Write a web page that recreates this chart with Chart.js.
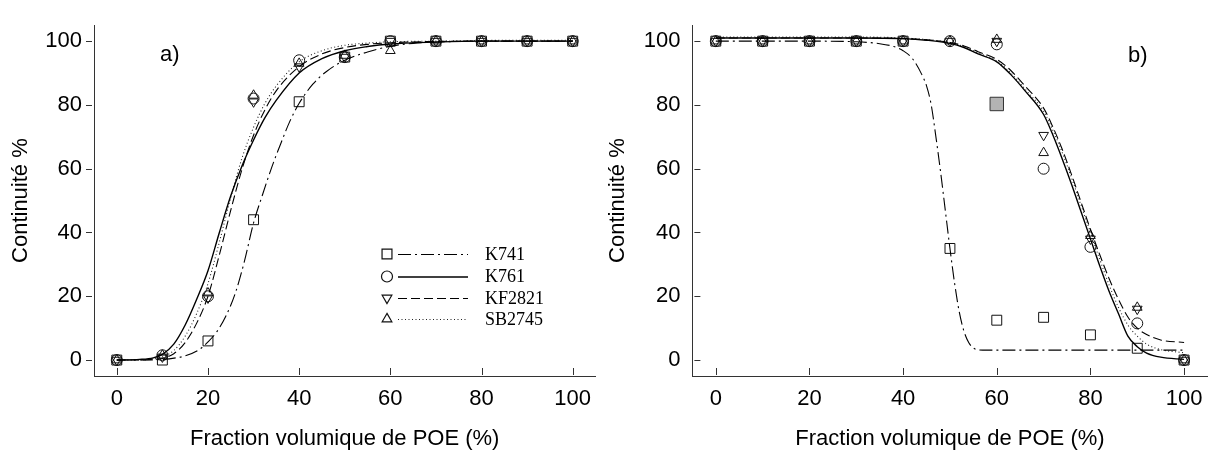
<!DOCTYPE html>
<html><head><meta charset="utf-8">
<script src="https://cdn.jsdelivr.net/npm/chart.js@4.4.1/dist/chart.umd.min.js"></script>
<style>
html,body{margin:0;padding:0;background:#fff;width:1218px;height:452px;overflow:hidden;}
#c1{position:absolute;left:0;top:0;}
#c2{position:absolute;left:600px;top:0;}
</style></head><body>
<canvas id="c1" width="609" height="452"></canvas>
<canvas id="c2" width="618" height="452"></canvas>
<script>
// ---------- data ----------
const xTickValues = [0, 20, 40, 60, 80, 100];
const yTickValues = [0, 20, 40, 60, 80, 100];
const seriesNames = ['K741', 'K761', 'KF2821', 'SB2745'];
const fractions = [0, 10, 20, 30, 40, 50, 60, 70, 80, 90, 100];

// panel a) measured points
const a_K741   = [0, 0,   6,   44, 81, 95,   100, 100, 100, 100, 100];
const a_K761   = [0, 1.5, 20,  82, 94, 95,   100, 100, 100, 100, 100];
const a_KF2821 = [0, 1,   19.5,81, 92, 95,   100, 100, 100, 100, 100];
const a_SB2745 = [0, 1.5, 21,  83, 93, 95.5, 97,  100, 100, 100, 100];

// panel a) fitted curves (read off the picture)
const fitA_x_K741 = [0,5,10,13,15,18,20,22,24,26,28,30,32,34,36,38,40,43,46,50,55,60,65,70,80,90,100];
const fitA_K741   = [0,0,0.2,0.7,1.3,3.2,5.7,9,14,21,31,43,52,60.5,68,75,80.5,86.5,90.5,94,96.6,98.4,99.3,99.7,100,100,100];
const fitA_x      = [0,5,8,10,12.5,15,17.5,20,22.5,25,27.5,30,32.5,35,40,45,50,55,60,70,80,90,100];
const fitA_K761   = [0,0.2,0.7,1.8,5,11,19,28,40,51.5,61,69,76,81.5,90,94.5,97,98.3,99.1,99.7,100,100,100];
const fitA_KF2821 = [0,0,0.2,0.5,2,5.5,11.5,20,33,47,60,70.5,78.5,84.5,92,96,98,99,99.5,99.9,100,100,100];
const fitA_SB2745 = [0,0,0.4,1,3,7.5,14.5,24,37,51,63.5,73,80.5,86,93.5,97,98.7,99.4,99.8,100,100.2,100.3,100.3];

// panel b) measured points
const b_K741   = [100, 100, 100, 100, 100, 35,  12.5, 13.4, 7.9,  3.7,  0];
const b_K761   = [100, 100, 100, 100, 100, 100, 99,   60,   35.5, 11.5, 0];
const b_KF2821 = [100, 100, 100, 100, 100, 100, 100,  70.5, 38,   16,   0];
const b_SB2745 = [100, 100, 100, 100, 100, 100, 100.5,65,   39,   16.5, 0];
const b_extra_x = [60];
const b_extra_y = [80.3];

// panel b) fitted curves
const fitB_x_K741 = [0,10,20,30,35,38,40,42,44,45,46,47,48,49,50,51,52,53,54,55,56,58,60,70,80,90,100];
const fitB_K741   = [100,100,100,99.8,99.2,98.3,97,94.5,89.5,86,80,70,59,47,35,24,15,9,5.5,3.8,3.2,3.1,3.1,3.1,3.1,3.1,3.1];
const fitB_x      = [0,20,30,40,45,50,53,56,60,63,66,70,72,74,76,78,80,82,84,86,88,90,92,95,100];
const fitB_K761   = [101,101,101,100.8,100.3,99.3,98,96,93.5,89.5,84.5,77,70.5,63,55,46.5,38,29.5,21.5,14.5,7.5,4.2,2.2,0.9,0.2];
const fitB_KF2821 = [101,101,101,100.8,100.4,99.6,98.5,96.7,94.3,90.8,86,79,73,66,58,49.5,41,33,25.5,19,13.5,10,8,6.3,5.5];
const fitB_SB2745 = [101.3,101.3,101.3,101,100.5,99.6,98.3,96.3,93.8,90,85,78,72,65,57,48.5,40,31.5,23.5,16.5,11,7.5,5,3.3,2.3];

// ---------- styles ----------
const FONT = '"Liberation Sans", Arial, Helvetica, sans-serif';
const SERIF = '"Liberation Serif", "Times New Roman", serif';
const styleOf = {
  K741:   {dash: [13, 4, 2, 4], point: 'rect',     r: 7,   rot: 0,   color: '#000', lw: 1.1},
  K761:   {dash: [],            point: 'circle',   r: 5.5, rot: 0,   color: '#000', lw: 1.4},
  KF2821: {dash: [9, 4],        point: 'triangle', r: 5.6, rot: 180, color: '#000', lw: 1.1},
  SB2745: {dash: [1, 2.5],      point: 'triangle', r: 5.6, rot: 0,   color: '#222', lw: 1.1}
};

const pts = (xs, ys) => xs.map((x, i) => ({x: x, y: ys[i]}));

function curveDs(name, xs, ys) {
  const s = styleOf[name];
  return {label: name + ' fit', data: pts(xs, ys), showLine: true, borderColor: s.color,
    borderWidth: s.lw, borderDash: s.dash, pointRadius: 0, cubicInterpolationMode: 'monotone', fill: false};
}
function markerDs(name, ys) {
  const s = styleOf[name];
  return {label: name, data: pts(fractions, ys), showLine: false, pointStyle: s.point,
    pointRadius: s.r, pointRotation: s.rot, pointBorderColor: '#111', pointBackgroundColor: 'rgba(0,0,0,0)',
    pointBorderWidth: 1};
}

// ---------- plugins ----------
const tickMarks = {
  id: 'tickMarks',
  afterDraw(chart, args, opts) {
    const ctx = chart.ctx, xs = chart.scales.x, ys = chart.scales.y, ca = chart.chartArea;
    ctx.save(); ctx.strokeStyle = '#333'; ctx.lineWidth = 1; ctx.beginPath();
    xTickValues.forEach(v => { const px = Math.round(xs.getPixelForValue(v)) + 0.5;
      ctx.moveTo(px, ca.bottom - 1); ctx.lineTo(px, ca.bottom - 8); });
    yTickValues.forEach(v => { const py = Math.round(ys.getPixelForValue(v)) + 0.5;
      if (opts.yOut) { ctx.moveTo(ca.left - 8, py); ctx.lineTo(ca.left - 2, py); }
      else { ctx.moveTo(ca.left + 2, py); ctx.lineTo(ca.left + 8, py); } });
    ctx.stroke(); ctx.restore();
  }
};
const panelText = {
  id: 'panelText',
  afterDraw(chart, args, opts) {
    const ctx = chart.ctx;
    ctx.save(); ctx.fillStyle = '#000'; ctx.font = '22px ' + FONT; ctx.textBaseline = 'middle'; ctx.textAlign = 'left';
    ctx.fillText(opts.text, opts.x, opts.y);
    if (opts.legend) {
      const L = opts.legend;
      seriesNames.forEach((name, i) => {
        const s = styleOf[name]; const y = L.rows[i];
        ctx.strokeStyle = s.color; ctx.lineWidth = s.lw; ctx.setLineDash(s.dash);
        ctx.beginPath(); ctx.moveTo(L.lineX0, y + 0.5); ctx.lineTo(L.lineX1, y + 0.5); ctx.stroke();
        ctx.setLineDash([]); ctx.strokeStyle = '#111'; ctx.fillStyle = 'rgba(0,0,0,0)'; ctx.lineWidth = 1.2;
        Chart.helpers.drawPoint(ctx, {pointStyle: s.point, rotation: s.rot, radius: s.r, borderWidth: 1.2}, L.markX, y);
        ctx.fillStyle = '#000'; ctx.font = '18px ' + SERIF; ctx.textBaseline = 'middle';
        ctx.fillText(name, L.textX, y + 1);
      });
    }
    ctx.restore();
  }
};

function makeOptions(yWidth, padLeft, padRight, titlePadTop, yOut, textOpts) {
  return {
    responsive: false, animation: false, devicePixelRatio: 1,
    layout: {padding: {left: padLeft, right: padRight, top: 7, bottom: 0}},
    plugins: {legend: {display: false}, tooltip: {enabled: false}, tickMarks: {yOut: yOut}, panelText: textOpts},
    scales: {
      x: {type: 'linear', min: -5, max: 105,
        afterBuildTicks: s => { s.ticks = xTickValues.map(v => ({value: v})); },
        afterFit: s => { s.height = 76; },
        grid: {display: false, drawTicks: false},
        border: {display: true, color: '#333', width: 1},
        ticks: {padding: 10, font: {family: FONT, size: 22}, color: '#000', maxRotation: 0, autoSkip: false},
        title: {display: true, text: 'Fraction volumique de POE (%)', font: {family: FONT, size: 22}, color: '#000', padding: {top: 0, bottom: 0}}},
      y: {type: 'linear', min: -5, max: 105,
        afterBuildTicks: s => { s.ticks = yTickValues.map(v => ({value: v})); },
        afterFit: s => { s.width = yWidth; },
        grid: {display: false, drawTicks: false},
        border: {display: true, color: '#333', width: 1},
        ticks: {padding: 12, font: {family: FONT, size: 22}, color: '#000', autoSkip: false},
        title: {display: true, text: 'Continuité %', font: {family: FONT, size: 22}, color: '#000', padding: {top: titlePadTop, bottom: 0}}}
    }
  };
}

// ---------- panel a ----------
new Chart(document.getElementById('c1'), {
  type: 'line',
  data: {datasets: [
    curveDs('K741', fitA_x_K741, fitA_K741),
    curveDs('K761', fitA_x, fitA_K761),
    curveDs('KF2821', fitA_x, fitA_KF2821),
    curveDs('SB2745', fitA_x, fitA_SB2745),
    markerDs('K741', a_K741), markerDs('K761', a_K761), markerDs('KF2821', a_KF2821), markerDs('SB2745', a_SB2745)
  ]},
  options: makeOptions(94, 0, 13.5, 8, true,
    {text: 'a)', x: 160, y: 55, legend: {rows: [254, 276.5, 298, 319], markX: 387, lineX0: 398, lineX1: 468, textX: 485}}),
  plugins: [tickMarks, panelText]
});

// ---------- panel b ----------
new Chart(document.getElementById('c2'), {
  type: 'line',
  data: {datasets: [
    curveDs('K741', fitB_x_K741, fitB_K741),
    curveDs('K761', fitB_x, fitB_K761),
    curveDs('KF2821', fitB_x, fitB_KF2821),
    curveDs('SB2745', fitB_x, fitB_SB2745),
    markerDs('K741', b_K741), markerDs('K761', b_K761), markerDs('KF2821', b_KF2821), markerDs('SB2745', b_SB2745),
    {label: 'K741 (60 %)', data: pts(b_extra_x, b_extra_y), showLine: false, pointStyle: 'rect', pointRadius: 9.5,
     pointBorderColor: '#333', pointBackgroundColor: '#b3b3b3', pointBorderWidth: 1}
  ]},
  options: makeOptions(92.4, 0, 6.4, 5, false, {text: 'b)', x: 528, y: 56}),
  plugins: [tickMarks, panelText]
});
</script>
</body></html>
